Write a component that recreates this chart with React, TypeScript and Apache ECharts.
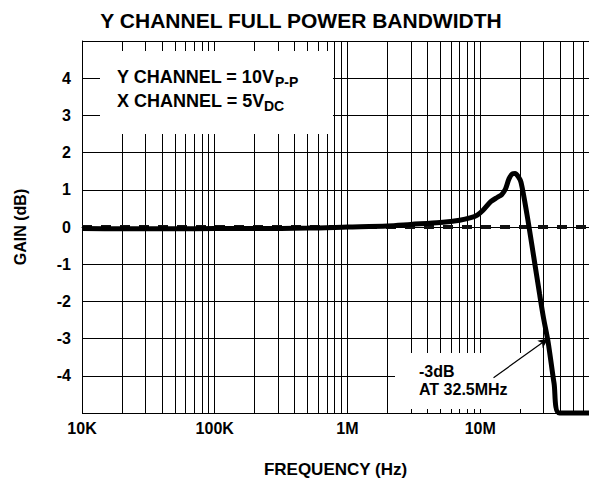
import React, { useEffect, useRef } from 'react';
import * as echarts from 'echarts';

// ---- data ----
const FREQ_HZ = [
  1e4, 2e4, 5e4, 1e5, 2e5, 5e5, 1e6, 2e6, 3e6, 5e6, 7e6, 8.5e6, 9.5e6, 10.5e6,
  12e6, 13.5e6, 14.5e6, 15.5e6, 16.5e6, 17.5e6, 18.3e6, 19.3e6, 20.3e6, 22.5e6,
  25.3e6, 28e6, 30e6, 32.5e6, 36e6, 39.5e6, 6.6e7,
];
const GAIN_DB = [
  -0.04, -0.05, -0.05, -0.04, -0.04, -0.03, 0.0, 0.03, 0.07, 0.12, 0.18, 0.25, 0.32, 0.45,
  0.68, 0.8, 0.87, 1.02, 1.3, 1.43, 1.44, 1.36, 1.2, 0.34,
  -0.8, -1.8, -2.45, -3.1, -4.2, -5.0, -5.0,
];
const ZERO_REF_FREQ = [1e4, 6.6e7];
const ZERO_REF_GAIN = [0, 0];

const X_MIN = 1e4;
const X_MAX = 6.6e7;
const Y_MIN = -5;
const Y_MAX = 5;
const X_DECADES = [1e4, 1e5, 1e6, 1e7];
const X_DECADE_LABELS = ['10K', '100K', '1M', '10M'];
const GRID_MULTIPLIERS = [1, 2, 3, 4, 5, 6, 7, 8, 9];
const Y_TICK_LABELS = [-4, -3, -2, -1, 0, 1, 2, 3, 4];

const ANNOT_START = [12.6e6, -4.05];
const ANNOT_POINT = [32.5e6, -3];

const TITLE = 'Y CHANNEL FULL POWER BANDWIDTH';
const X_NAME = 'FREQUENCY (Hz)';
const Y_NAME = 'GAIN (dB)';

const FONT = '"Liberation Sans", Arial, Helvetica, sans-serif';

export default function App() {
  const ref = useRef<HTMLDivElement>(null);

  useEffect(() => {
    if (!ref.current) return;
    const chart = echarts.init(ref.current, null, { renderer: 'svg' });

    const gridFreqs: number[] = [];
    X_DECADES.forEach((d) => {
      GRID_MULTIPLIERS.forEach((m) => {
        const f = d * m;
        if (f > X_MIN && f < X_MAX) gridFreqs.push(f);
      });
    });

    const xLabel = (v: number) => {
      const i = X_DECADES.findIndex((d) => Math.abs(Math.log10(d) - Math.log10(v)) < 1e-6);
      return i >= 0 ? X_DECADE_LABELS[i] : '';
    };

    const option: any = {
      animation: false,
      backgroundColor: '#fff',
      textStyle: { fontFamily: FONT },
      grid: { left: 82, right: 0, top: 41, bottom: 70, outerBoundsMode: 'none', containLabel: false },
      xAxis: {
        type: 'log',
        logBase: 10,
        min: X_MIN,
        max: X_MAX,
        name: X_NAME,
        nameLocation: 'middle',
        nameGap: 48,
        nameTextStyle: { fontFamily: FONT, fontWeight: 'bold', fontSize: 17, color: '#000' },
        axisLine: { show: true, lineStyle: { color: '#000', width: 1 } },
        axisTick: { show: false },
        splitLine: { show: false },
        axisLabel: {
          formatter: xLabel,
          margin: 7,
          fontFamily: FONT,
          fontWeight: 'bold',
          fontSize: 16,
          color: '#000',
          showMaxLabel: false,
        },
      },
      yAxis: {
        type: 'value',
        min: Y_MIN,
        max: Y_MAX,
        interval: 1,
        name: Y_NAME,
        nameLocation: 'middle',
        nameGap: 54,
        nameTextStyle: { fontFamily: FONT, fontWeight: 'bold', fontSize: 16, color: '#000' },
        axisLine: { show: true, lineStyle: { color: '#000', width: 1 } },
        axisTick: { show: false },
        splitLine: { show: true, lineStyle: { color: '#000', width: 1 } },
        axisLabel: {
          formatter: (v: number) => (Y_TICK_LABELS.indexOf(v) >= 0 ? String(v) : ''),
          margin: 11,
          fontFamily: FONT,
          fontWeight: 'bold',
          fontSize: 16,
          color: '#000',
        },
      },
      series: [
        {
          name: 'zero',
          type: 'line',
          z: 10,
          symbol: 'none',
          silent: true,
          data: ZERO_REF_FREQ.map((f, i) => [f, ZERO_REF_GAIN[i]]),
          lineStyle: { color: '#111', width: 4, type: [10, 9] },
          markLine: {
            z: 1,
            silent: true,
            symbol: 'none',
            animation: false,
            label: { show: false },
            lineStyle: { color: '#000', width: 1, type: 'solid' },
            data: gridFreqs.map((f) => ({ xAxis: f })),
          },
        },
        {
          name: 'gain',
          type: 'line',
          z: 12,
          symbol: 'none',
          smooth: 0.3,
          clip: false,
          silent: true,
          data: FREQ_HZ.map((f, i) => [f, GAIN_DB[i]]),
          lineStyle: { color: '#000', width: 5 },
          markLine: {
            z: 12,
            silent: true,
            symbol: ['none', 'arrow'],
            symbolSize: [7, 10],
            animation: false,
            label: { show: false },
            lineStyle: { color: '#000', width: 1.2, type: 'solid' },
            data: [[{ coord: ANNOT_START }, { coord: ANNOT_POINT }]],
          },
        },
      ],
      graphic: [
        { type: 'rect', z: 5, silent: true, shape: { x: 100, y: 51, width: 233, height: 83 }, style: { fill: '#fff' } },
        { type: 'rect', z: 5, silent: true, shape: { x: 395, y: 353, width: 145, height: 56 }, style: { fill: '#fff' } },
        {
          type: 'text', z: 20, x: 301, y: 20,
          style: { text: TITLE, font: `bold 21px ${FONT}`, fill: '#000', align: 'center', verticalAlign: 'middle' },
        },
        {
          type: 'text', z: 20, x: 117, y: 77,
          style: { text: 'Y CHANNEL = 10V', font: `bold 18px ${FONT}`, fill: '#000', align: 'left', verticalAlign: 'middle' },
        },
        {
          type: 'text', z: 20, x: 275, y: 82,
          style: { text: 'P-P', font: `bold 14px ${FONT}`, fill: '#000', align: 'left', verticalAlign: 'middle' },
        },
        {
          type: 'text', z: 20, x: 117, y: 100.5,
          style: { text: 'X CHANNEL = 5V', font: `bold 18px ${FONT}`, fill: '#000', align: 'left', verticalAlign: 'middle' },
        },
        {
          type: 'text', z: 20, x: 264, y: 106,
          style: { text: 'DC', font: `bold 14px ${FONT}`, fill: '#000', align: 'left', verticalAlign: 'middle' },
        },
        {
          type: 'text', z: 20, x: 419, y: 371.5,
          style: { text: '-3dB', font: `bold 16px ${FONT}`, fill: '#000', align: 'left', verticalAlign: 'middle' },
        },
        {
          type: 'text', z: 20, x: 419, y: 389.5,
          style: { text: 'AT 32.5MHz', font: `bold 16px ${FONT}`, fill: '#000', align: 'left', verticalAlign: 'middle' },
        },
      ],
    };

    chart.setOption(option);
    return () => chart.dispose();
  }, []);

  return (
    <div
      ref={ref}
      style={{ position: 'fixed', left: 0, top: 0, width: 589, height: 483, background: '#fff' }}
    />
  );
}
